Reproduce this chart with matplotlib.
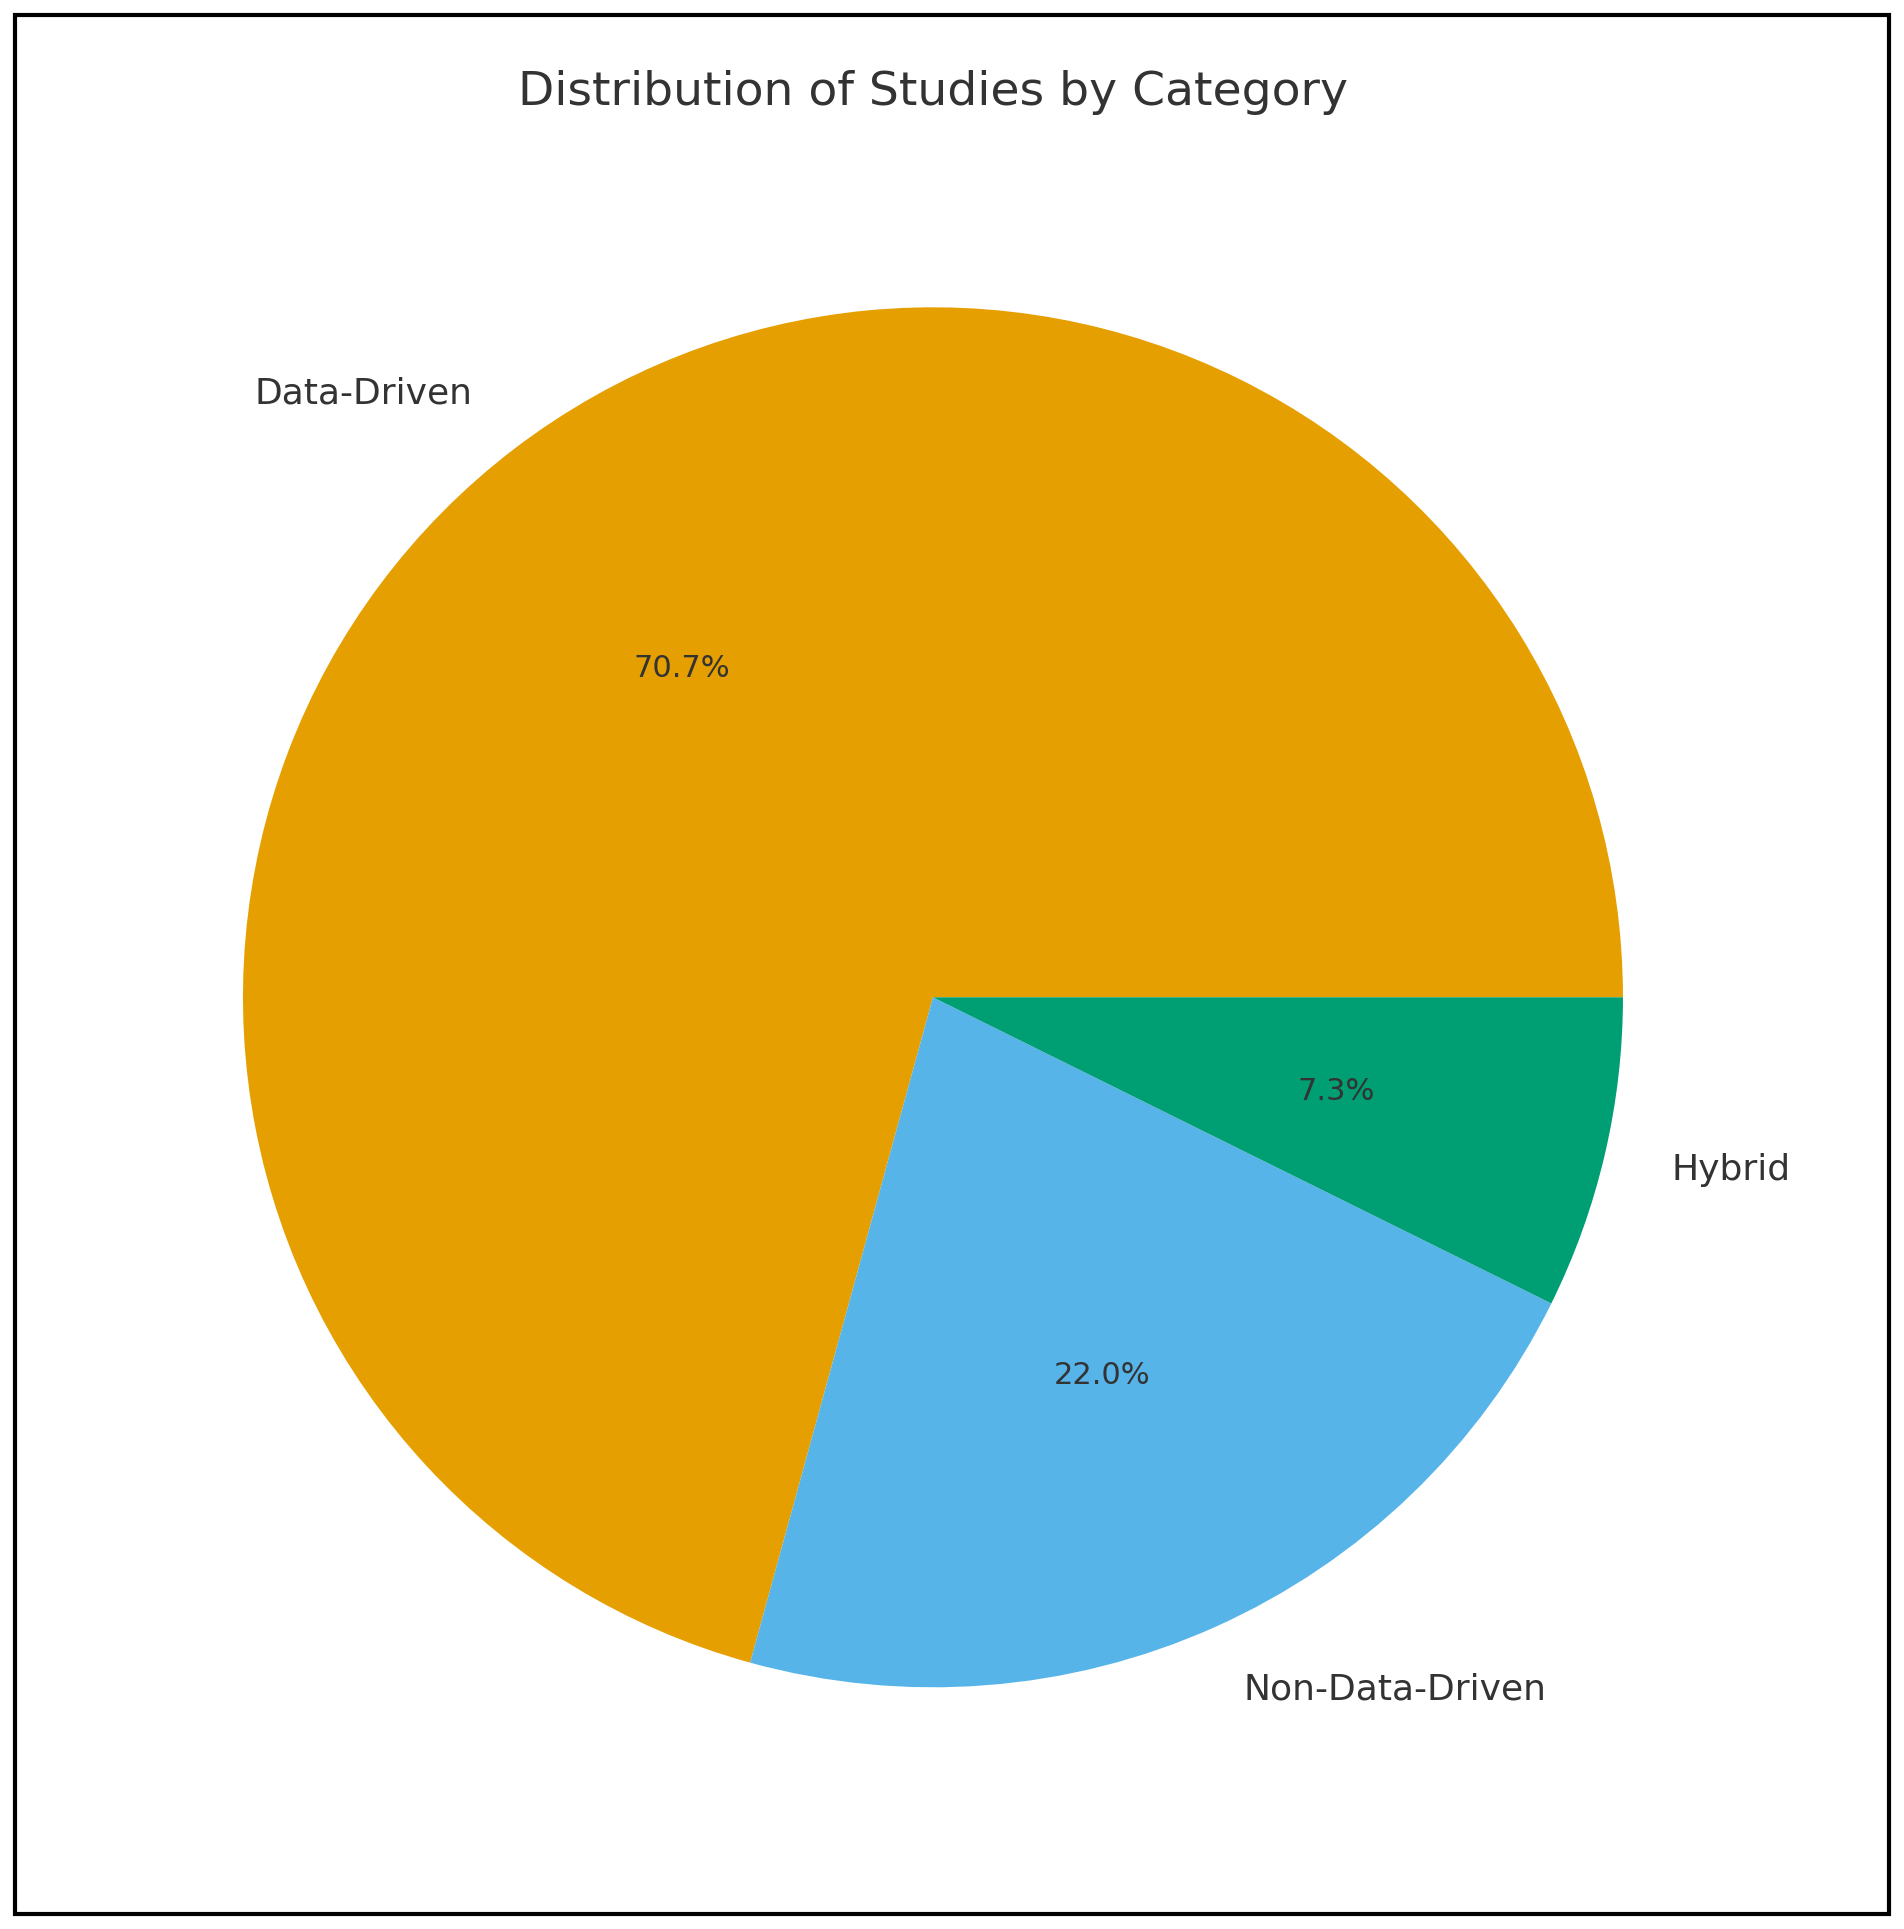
import matplotlib.pyplot as plt
from matplotlib.patches import Rectangle

categories = ['Data-Driven', 'Non-Data-Driven', 'Hybrid']
counts = [29, 9, 3]
colors = ['#E69F00', '#56B4E9', '#009E73']

fig = plt.figure(figsize=(9.52, 9.645), dpi=200)
ax = fig.add_axes([0.49 - 0.3625, 0.483 - 0.3577, 0.725, 0.7154])
wedges, texts, autotexts = ax.pie(counts, labels=categories, colors=colors,
                                  autopct='%1.1f%%', startangle=0,
                                  textprops={'color': '#333333', 'fontsize': 13})
for t in autotexts:
    t.set_fontsize(11)
ax.set_xlim(-1, 1)
ax.set_ylim(-1, 1)
ax.set_aspect('equal')

fig.text(0.49, 0.952, 'Distribution of Studies by Category', ha='center', va='center',
         fontsize=17, color='#333333')
fig.patches.append(Rectangle((0.008, 0.008), 0.984, 0.984, transform=fig.transFigure,
                             fill=False, edgecolor='black', linewidth=1.5))

fig.savefig('out.png', dpi=200)
